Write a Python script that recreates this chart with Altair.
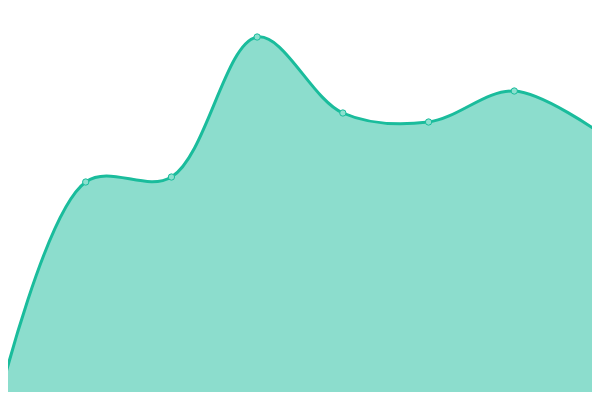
import altair as alt
import pandas as pd

labels = ["P0", "P1", "P2", "P3", "P4", "P5", "P6", "P7"]
index = [0, 1, 2, 3, 4, 5, 6, 7]
values = [4, 218, 223, 363, 287, 278, 309, 267]

df = pd.DataFrame({"label": labels, "i": index, "v": values})

x = alt.X("i:Q", scale=alt.Scale(domain=[0, 7], range=[-8, 592], nice=False, zero=False), axis=None)
y = alt.Y("v:Q", scale=alt.Scale(domain=[0, 400], range=[392, -8], nice=False), axis=None)

base = alt.Chart(df)
area = base.mark_area(interpolate="catmull-rom", color="#1abc9c", opacity=0.5).encode(x=x, y=y)
line = base.mark_line(interpolate="catmull-rom", color="#1abc9c", strokeWidth=3).encode(x=x, y=y)
pts = base.mark_point(filled=True, size=40, fill="#8ce0cf", stroke="#1abc9c",
                      strokeWidth=1, opacity=1).encode(x=x, y=y)

chart = alt.layer(area, line, pts).properties(
    width=584, height=384,
    padding=0,
    autosize=alt.AutoSizeParams(type="none"),
).configure_view(stroke=None)

chart.save("out.html", embed_options={"renderer": "svg", "actions": False})
